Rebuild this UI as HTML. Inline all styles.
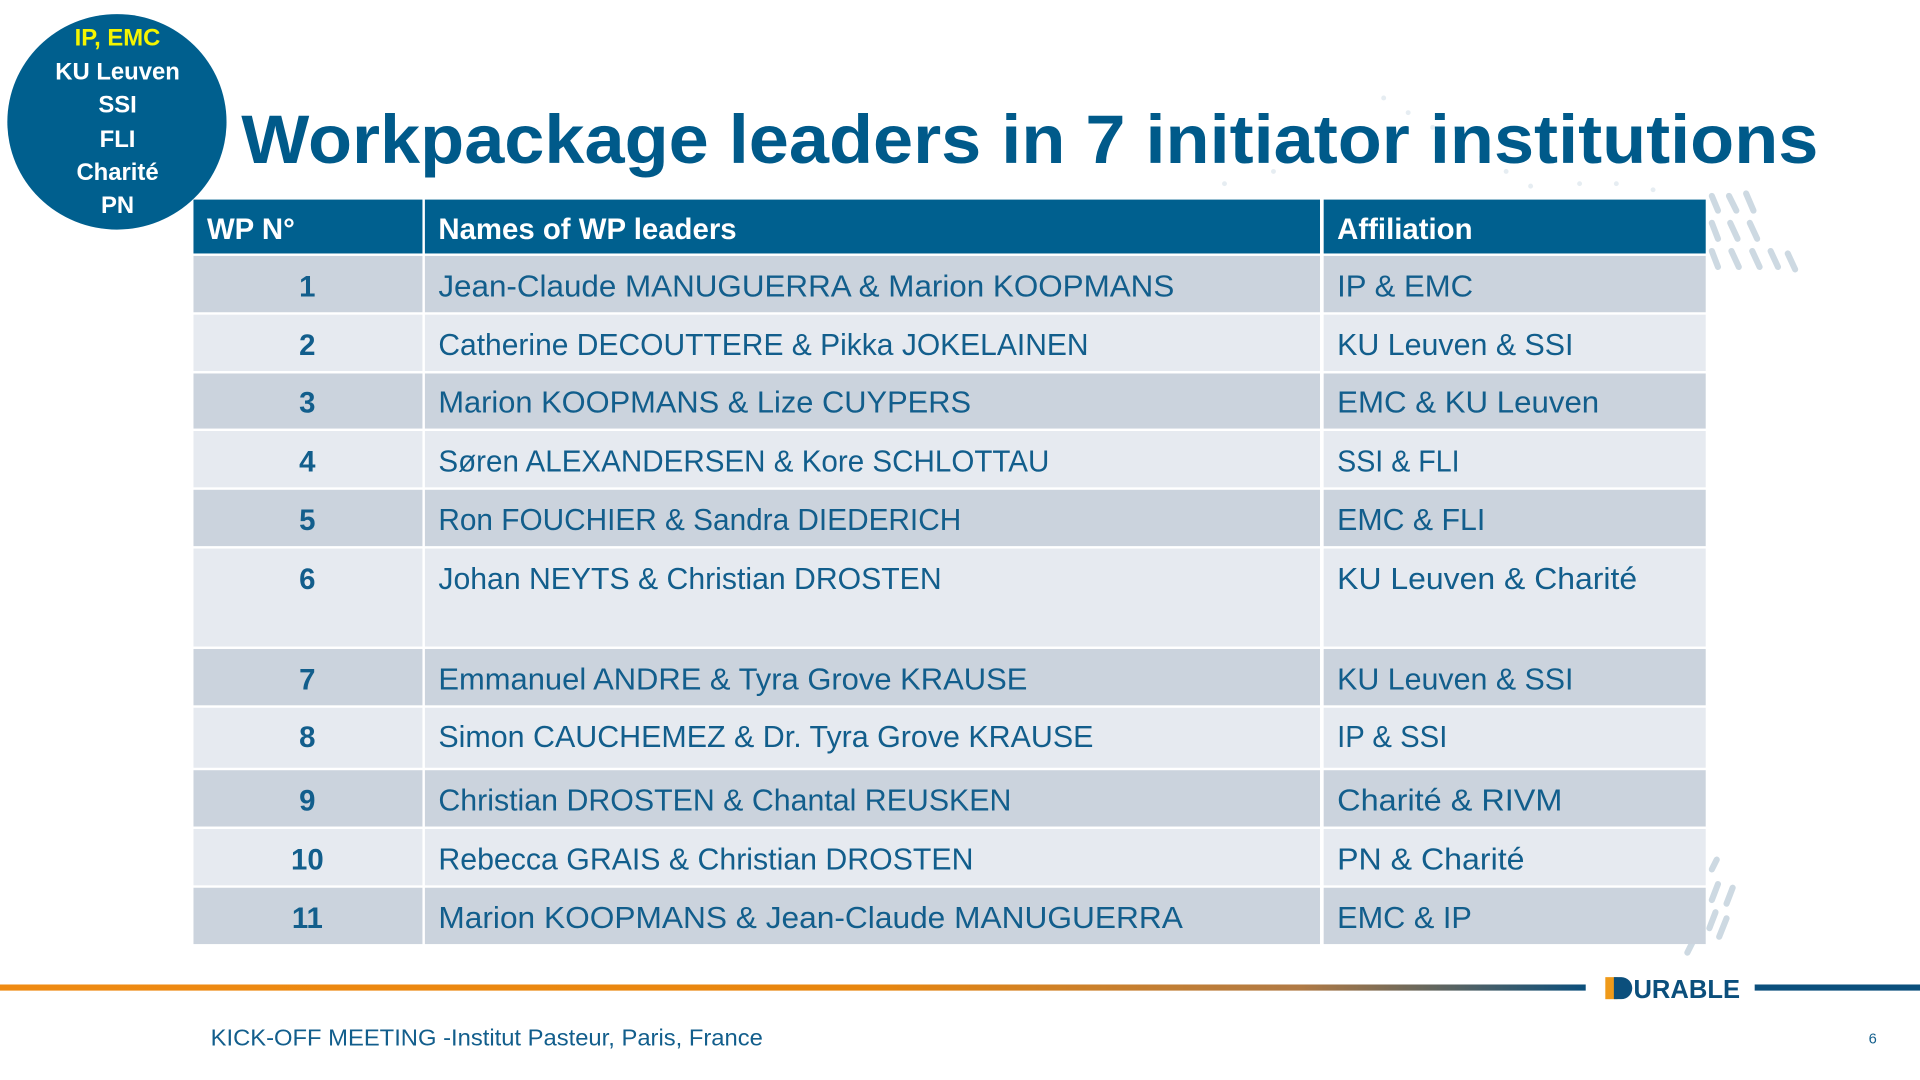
<!DOCTYPE html>
<html><head><meta charset="utf-8"><style>
html,body{margin:0;padding:0;background:#fff;width:1920px;height:1080px;overflow:hidden}
svg{display:block}
text{font-family:"Liberation Sans",sans-serif}
</style></head><body>
<svg width="1920" height="1080" viewBox="0 0 1568 882" xmlns="http://www.w3.org/2000/svg">
<defs>
<linearGradient id="g" x1="0" x2="1" y1="0" y2="0">
<stop offset="0" stop-color="#ef8a12"/><stop offset="0.55" stop-color="#e8860e"/><stop offset="0.82" stop-color="#b07a45"/><stop offset="1" stop-color="#0b4f7c"/>
</linearGradient>
</defs>
<!-- decorative dashes -->
<g stroke="#cdd9e2" stroke-width="5" stroke-linecap="round">
<line x1="1403" y1="218" x2="1398" y2="205"/><line x1="1403" y1="195" x2="1398" y2="182"/><line x1="1403" y1="172" x2="1398" y2="160"/>
<line x1="1420" y1="218" x2="1414" y2="205"/><line x1="1419" y1="195" x2="1413" y2="182"/><line x1="1418" y1="172" x2="1412" y2="160"/>
<line x1="1437" y1="218" x2="1431" y2="205"/><line x1="1435" y1="195" x2="1429" y2="182"/><line x1="1432" y1="172" x2="1426" y2="158"/>
<line x1="1452" y1="218" x2="1446" y2="205"/><line x1="1466" y1="220" x2="1460" y2="207"/>
<line x1="1398" y1="735" x2="1403" y2="722"/><line x1="1396" y1="758" x2="1401" y2="745"/><line x1="1410" y1="738" x2="1415" y2="725"/><line x1="1404" y1="765" x2="1410" y2="750"/><line x1="1378" y1="778" x2="1382" y2="770"/><line x1="1398" y1="710" x2="1402" y2="702"/>
</g>
<g fill="#e6edf2">
<circle cx="1130" cy="80" r="2"/><circle cx="1150" cy="92" r="2"/><circle cx="1170" cy="104" r="2"/><circle cx="1190" cy="116" r="2"/><circle cx="1210" cy="128" r="2"/><circle cx="1230" cy="140" r="2"/><circle cx="1250" cy="152" r="2"/><circle cx="1290" cy="150" r="2"/><circle cx="1320" cy="150" r="2"/><circle cx="1350" cy="155" r="2"/><circle cx="1000" cy="150" r="2"/><circle cx="1040" cy="140" r="2"/>
</g>
<!-- circle -->
<ellipse cx="95.5" cy="99.5" rx="89.5" ry="88" fill="#005f8e"/>
<g font-weight="bold" font-size="19.5" text-anchor="middle" fill="#fff">
<text x="96" y="37" fill="#f5f500">IP, EMC</text>
<text x="96" y="65">KU Leuven</text>
<text x="96" y="92">SSI</text>
<text x="96" y="120">FLI</text>
<text x="96" y="147">Charité</text>
<text x="96" y="174">PN</text>
</g>
<!-- title -->
<text x="197" y="133" font-size="56" font-weight="bold" fill="#005a8a" textLength="1288" lengthAdjust="spacingAndGlyphs">Workpackage leaders in 7 initiator institutions</text>
<!-- header -->
<rect x="158" y="163" width="187" height="44" fill="#00608f"/>
<rect x="347" y="163" width="731" height="44" fill="#00608f"/>
<rect x="1081" y="163" width="312" height="44" fill="#00608f"/>
<g font-size="24" font-weight="bold" fill="#fff">
<text x="169" y="195">WP N°</text>
<text x="358" y="195">Names of WP leaders</text>
<text x="1092" y="195">Affiliation</text>
</g>
<!-- rows -->
<g id="rows" font-size="25" fill="#125e8c">
<g fill="#cbd3dd"><rect x="158" y="209" width="187" height="46"/><rect x="347" y="209" width="731" height="46"/><rect x="1081" y="209" width="312" height="46"/></g>
<g fill="#e6eaf0"><rect x="158" y="257" width="187" height="46"/><rect x="347" y="257" width="731" height="46"/><rect x="1081" y="257" width="312" height="46"/></g>
<g fill="#cbd3dd"><rect x="158" y="305" width="187" height="45"/><rect x="347" y="305" width="731" height="45"/><rect x="1081" y="305" width="312" height="45"/></g>
<g fill="#e6eaf0"><rect x="158" y="352" width="187" height="46"/><rect x="347" y="352" width="731" height="46"/><rect x="1081" y="352" width="312" height="46"/></g>
<g fill="#cbd3dd"><rect x="158" y="400" width="187" height="46"/><rect x="347" y="400" width="731" height="46"/><rect x="1081" y="400" width="312" height="46"/></g>
<g fill="#e6eaf0"><rect x="158" y="448" width="187" height="80"/><rect x="347" y="448" width="731" height="80"/><rect x="1081" y="448" width="312" height="80"/></g>
<g fill="#cbd3dd"><rect x="158" y="530" width="187" height="46"/><rect x="347" y="530" width="731" height="46"/><rect x="1081" y="530" width="312" height="46"/></g>
<g fill="#e6eaf0"><rect x="158" y="578" width="187" height="49"/><rect x="347" y="578" width="731" height="49"/><rect x="1081" y="578" width="312" height="49"/></g>
<g fill="#cbd3dd"><rect x="158" y="629" width="187" height="46"/><rect x="347" y="629" width="731" height="46"/><rect x="1081" y="629" width="312" height="46"/></g>
<g fill="#e6eaf0"><rect x="158" y="677" width="187" height="46"/><rect x="347" y="677" width="731" height="46"/><rect x="1081" y="677" width="312" height="46"/></g>
<g fill="#cbd3dd"><rect x="158" y="725" width="187" height="46"/><rect x="347" y="725" width="731" height="46"/><rect x="1081" y="725" width="312" height="46"/></g>
</g>
<g font-size="24" font-weight="bold" fill="#125e8c" text-anchor="middle">
<text x="251" y="242">1</text><text x="251" y="290">2</text><text x="251" y="337">3</text><text x="251" y="385">4</text><text x="251" y="433">5</text><text x="251" y="481">6</text><text x="251" y="563">7</text><text x="251" y="610">8</text><text x="251" y="662">9</text><text x="251" y="710">10</text><text x="251" y="758">11</text>
</g>
<g font-size="25" fill="#125e8c">
<text x="358" y="242" textLength="601" lengthAdjust="spacingAndGlyphs">Jean-Claude MANUGUERRA &amp; Marion KOOPMANS</text>
<text x="358" y="290" textLength="531" lengthAdjust="spacingAndGlyphs">Catherine DECOUTTERE &amp; Pikka JOKELAINEN</text>
<text x="358" y="337" textLength="435" lengthAdjust="spacingAndGlyphs">Marion KOOPMANS &amp;  Lize CUYPERS</text>
<text x="358" y="385" textLength="499" lengthAdjust="spacingAndGlyphs">Søren ALEXANDERSEN &amp; Kore SCHLOTTAU</text>
<text x="358" y="433" textLength="427" lengthAdjust="spacingAndGlyphs">Ron FOUCHIER &amp; Sandra DIEDERICH</text>
<text x="358" y="481" textLength="411" lengthAdjust="spacingAndGlyphs">Johan NEYTS &amp; Christian DROSTEN</text>
<text x="358" y="563" textLength="481" lengthAdjust="spacingAndGlyphs">Emmanuel ANDRE &amp; Tyra Grove KRAUSE</text>
<text x="358" y="610" textLength="535" lengthAdjust="spacingAndGlyphs">Simon CAUCHEMEZ &amp; Dr. Tyra Grove KRAUSE</text>
<text x="358" y="662" textLength="468" lengthAdjust="spacingAndGlyphs">Christian DROSTEN &amp; Chantal REUSKEN</text>
<text x="358" y="710" textLength="437" lengthAdjust="spacingAndGlyphs">Rebecca GRAIS &amp; Christian DROSTEN</text>
<text x="358" y="758" textLength="608" lengthAdjust="spacingAndGlyphs">Marion KOOPMANS  &amp; Jean-Claude MANUGUERRA</text>
<text x="1092" y="242" textLength="111" lengthAdjust="spacingAndGlyphs">IP &amp; EMC</text>
<text x="1092" y="290" textLength="193" lengthAdjust="spacingAndGlyphs">KU Leuven &amp; SSI</text>
<text x="1092" y="337" textLength="214" lengthAdjust="spacingAndGlyphs">EMC &amp; KU Leuven</text>
<text x="1092" y="385" textLength="100" lengthAdjust="spacingAndGlyphs">SSI &amp; FLI</text>
<text x="1092" y="433" textLength="121" lengthAdjust="spacingAndGlyphs">EMC &amp; FLI</text>
<text x="1092" y="481" textLength="245" lengthAdjust="spacingAndGlyphs">KU Leuven &amp; Charité</text>
<text x="1092" y="563" textLength="193" lengthAdjust="spacingAndGlyphs">KU Leuven &amp; SSI</text>
<text x="1092" y="610" textLength="90" lengthAdjust="spacingAndGlyphs">IP &amp; SSI</text>
<text x="1092" y="662" textLength="184" lengthAdjust="spacingAndGlyphs">Charité &amp; RIVM</text>
<text x="1092" y="710" textLength="153" lengthAdjust="spacingAndGlyphs">PN &amp; Charité</text>
<text x="1092" y="758" textLength="110" lengthAdjust="spacingAndGlyphs">EMC &amp; IP</text>
</g>
<!-- bottom bar -->
<rect x="0" y="804" width="1295" height="5" fill="url(#g)"/>
<rect x="1433" y="804" width="135" height="5" fill="#0b4f7c"/>
<rect x="1311" y="798" width="10" height="18" fill="#ef9a1a"/>
<path d="M1318 798 h6 a9 9 0 0 1 0 18 h-6 z" fill="#0b4f7c"/>
<text x="1334" y="815" font-size="21" font-weight="bold" fill="#0b4f7c" textLength="87" lengthAdjust="spacingAndGlyphs">URABLE</text>
<text x="172" y="854" font-size="19" fill="#125e8c" textLength="451" lengthAdjust="spacingAndGlyphs">KICK-OFF MEETING -Institut Pasteur, Paris, France</text>
<text x="1526" y="852" font-size="12" fill="#125e8c">6</text>
</svg>
</body></html>
